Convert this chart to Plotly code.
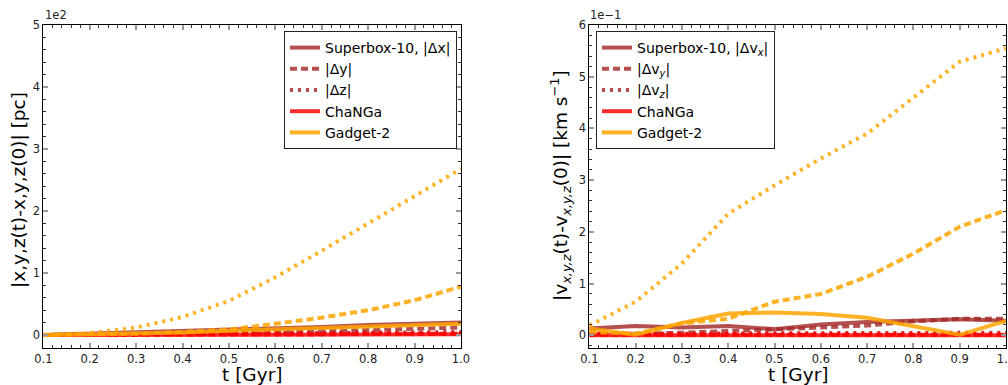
import plotly.graph_objects as go

# Time samples [Gyr]
t = [0.1, 0.2, 0.3, 0.4, 0.5, 0.6, 0.7, 0.8, 0.9, 1.0]

# Position offsets |x,y,z(t) - x,y,z(0)|, in units of 1e2 pc
pos_superbox_x = [0.00, 0.02, 0.04, 0.06, 0.08, 0.11, 0.13, 0.16, 0.18, 0.20]
pos_superbox_y = [0.00, 0.01, 0.01, 0.015, 0.025, 0.04, 0.06, 0.08, 0.10, 0.12]
pos_superbox_z = [0.00, 0.01, 0.01, 0.02, 0.02, 0.03, 0.03, 0.04, 0.04, 0.05]
pos_changa_x = [0.00, 0.00, 0.00, 0.00, 0.01, 0.01, 0.01, 0.01, 0.01, 0.01]
pos_changa_y = [0.00, 0.00, 0.00, 0.01, 0.01, 0.01, 0.01, 0.02, 0.02, 0.02]
pos_changa_z = [0.00, 0.00, 0.01, 0.01, 0.02, 0.02, 0.02, 0.03, 0.03, 0.03]
pos_gadget_x = [0.00, 0.01, 0.02, 0.04, 0.07, 0.09, 0.11, 0.13, 0.16, 0.18]
pos_gadget_y = [0.00, 0.01, 0.02, 0.05, 0.09, 0.18, 0.28, 0.40, 0.56, 0.78]
pos_gadget_z = [0.00, 0.03, 0.12, 0.29, 0.55, 0.93, 1.36, 1.80, 2.25, 2.68]

# Velocity offsets |v(t) - v(0)|, in units of 1e-1 km/s
vel_superbox_x = [0.13, 0.18, 0.15, 0.18, 0.12, 0.21, 0.26, 0.29, 0.31, 0.28]
vel_superbox_y = [0.03, 0.03, 0.05, 0.08, 0.11, 0.15, 0.19, 0.27, 0.32, 0.32]
vel_superbox_z = [0.02, 0.02, 0.03, 0.03, 0.04, 0.04, 0.05, 0.05, 0.05, 0.05]
vel_changa_x = [0.00, 0.00, 0.00, 0.00, 0.00, 0.00, 0.00, 0.00, 0.00, 0.00]
vel_changa_y = [0.01, 0.01, 0.01, 0.01, 0.01, 0.01, 0.01, 0.01, 0.01, 0.01]
vel_changa_z = [0.03, 0.03, 0.03, 0.03, 0.03, 0.03, 0.03, 0.03, 0.03, 0.03]
vel_gadget_x = [0.13, 0.01, 0.24, 0.42, 0.44, 0.41, 0.34, 0.17, 0.01, 0.28]
vel_gadget_y = [0.06, 0.03, 0.23, 0.32, 0.65, 0.80, 1.13, 1.58, 2.10, 2.42]
vel_gadget_z = [0.19, 0.65, 1.39, 2.35, 2.90, 3.42, 3.90, 4.60, 5.29, 5.55]

x_ticks = [0.1, 0.2, 0.3, 0.4, 0.5, 0.6, 0.7, 0.8, 0.9, 1.0]
pos_y_ticks = [0, 1, 2, 3, 4, 5]
vel_y_ticks = [0, 1, 2, 3, 4, 5, 6]

W, H = 1008, 385
FONT = "DejaVu Sans"

C_SUPERBOX = "rgba(165,42,42,0.82)"
C_CHANGA = "rgba(255,0,0,0.82)"
C_GADGET = "rgba(255,165,0,0.85)"
DASH = "7px,4px"
DOT = "3px,5px"
LW = 4


def fx(px):
    return px / W


def fy(py):
    return 1 - py / H


fig = go.Figure()


def add_panel(xa, ya, legend, data, labels):
    styles = ["solid", DASH, DOT]
    groups = [
        (C_SUPERBOX, data[0], labels[0:3]),
        (C_CHANGA, data[1], [labels[3], None, None]),
        (C_GADGET, data[2], [labels[4], None, None]),
    ]
    for color, series, names in groups:
        for ys, dash, name in zip(series, styles, names):
            fig.add_trace(go.Scatter(
                x=t, y=ys, mode="lines", xaxis=xa, yaxis=ya,
                line=dict(color=color, width=LW, dash=dash),
                name=name if name else "", showlegend=name is not None,
                legend=legend, hoverinfo="skip",
            ))


add_panel("x", "y", "legend",
          [(pos_superbox_x, pos_superbox_y, pos_superbox_z),
           (pos_changa_x, pos_changa_y, pos_changa_z),
           (pos_gadget_x, pos_gadget_y, pos_gadget_z)],
          ["Superbox-10, |Δx|", "|Δy|", "|Δz|", "ChaNGa", "Gadget-2"])

add_panel("x2", "y2", "legend2",
          [(vel_superbox_x, vel_superbox_y, vel_superbox_z),
           (vel_changa_x, vel_changa_y, vel_changa_z),
           (vel_gadget_x, vel_gadget_y, vel_gadget_z)],
          ["Superbox-10, |Δv<sub><i>x</i></sub>|", "|Δv<sub><i>y</i></sub>|",
           "|Δv<sub><i>z</i></sub>|", "ChaNGa", "Gadget-2"])

tick_font = dict(family=FONT, size=11.5, color="#222")


def axis_style(**kw):
    d = dict(
        showline=True, linecolor="black", linewidth=1, mirror="ticks",
        ticks="inside", ticklen=5, tickwidth=1.5, tickcolor="#9a9a9a",
        showgrid=False, zeroline=False, tickfont=tick_font,
        automargin=False, ticklabeloverflow="allow",
    )
    d.update(kw)
    return d


minor_x = dict(dtick=0.02, ticks="inside", ticklen=3, tickwidth=1,
               tickcolor="#333", showgrid=False)
minor_y = dict(dtick=0.2, ticks="inside", ticklen=3, tickwidth=1,
               tickcolor="#333", showgrid=False)

x_dom1 = [fx(43.3), fx(461)]
x_dom2 = [fx(589.3), fx(1006)]
y_dom = [fy(348), fy(25)]

legend_common = dict(xanchor="left", yanchor="top",
                     bgcolor="white", bordercolor="#222", borderwidth=1,
                     font=dict(family=FONT, size=14, color="black"),
                     itemwidth=30, tracegroupgap=0)

fig.update_layout(
    width=W, height=H,
    margin=dict(l=0, r=0, t=0, b=0),
    paper_bgcolor="white", plot_bgcolor="white",
    font=dict(family=FONT, color="black"),
    xaxis=axis_style(domain=x_dom1, range=[0.1, 1.0], tickvals=x_ticks,
                     tickformat=".1f", minor=minor_x, anchor="y"),
    yaxis=axis_style(domain=y_dom, range=[-0.21, 5], tickvals=pos_y_ticks,
                     minor=minor_y, anchor="x"),
    xaxis2=axis_style(domain=x_dom2, range=[0.1, 1.0], tickvals=x_ticks,
                      tickformat=".1f", minor=minor_x, anchor="y2"),
    yaxis2=axis_style(domain=y_dom, range=[-0.245, 6], tickvals=vel_y_ticks,
                      minor=minor_y, anchor="x2"),
    legend=dict(x=fx(284), y=fy(31), **legend_common),
    legend2=dict(x=fx(596), y=fy(31), **legend_common),
    showlegend=True,
)

annotations = [
    dict(text="1e2", x=fx(43), y=fy(24), xanchor="left", yanchor="bottom",
         font=dict(family=FONT, size=11.5, color="#222")),
    dict(text="1e\u22121", x=fx(588), y=fy(24), xanchor="left", yanchor="bottom",
         font=dict(family=FONT, size=11.5, color="#222")),
    dict(text="t [Gyr]", x=fx(252), y=fy(374), xanchor="center", yanchor="middle",
         font=dict(family=FONT, size=18.5, color="black")),
    dict(text="t [Gyr]", x=fx(797.6), y=fy(374), xanchor="center", yanchor="middle",
         font=dict(family=FONT, size=18.5, color="black")),
    dict(text="|x,y,z(t)-x,y,z(0)| [pc]", x=fx(19), y=fy(190), textangle=-90,
         xanchor="center", yanchor="middle",
         font=dict(family=FONT, size=18.5, color="black")),
    dict(text="|v<sub><i>x,y,z</i></sub>(t)-v<sub><i>x,y,z</i></sub>(0)| [km s<sup>\u22121</sup>]",
         x=fx(561), y=fy(186), textangle=-90, xanchor="center", yanchor="middle",
         font=dict(family=FONT, size=18.5, color="black")),
]
for a in annotations:
    a.update(xref="paper", yref="paper", showarrow=False)
fig.update_layout(annotations=annotations)

fig.write_html("out.html")
